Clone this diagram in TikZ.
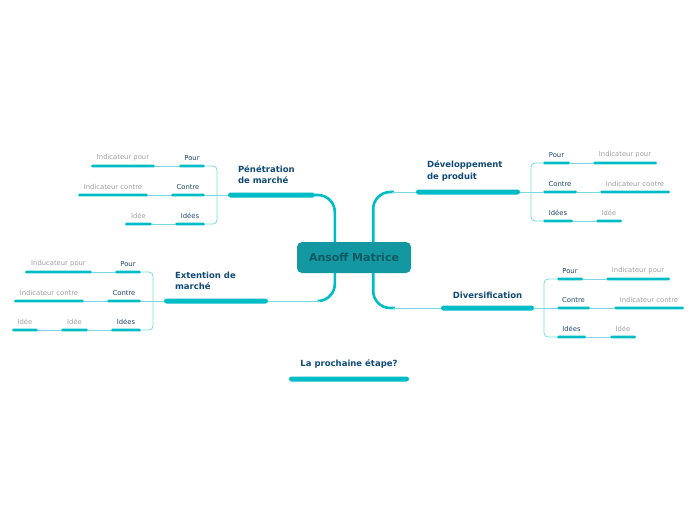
\documentclass[tikz,border=0pt]{standalone}
\usepackage{fontspec}
\setmainfont{DejaVu Sans}
\usetikzlibrary{positioning, calc}
\definecolor{barcyan}{RGB}{0,188,198}
\definecolor{twigcyan}{RGB}{120,218,224}
\definecolor{ctrfill}{RGB}{19,151,160}
\definecolor{ctrtext}{RGB}{14,90,100}
\definecolor{topicblue}{RGB}{16,74,118}
\definecolor{kidblue}{RGB}{28,72,108}
\definecolor{leafgrey}{RGB}{158,158,158}

\begin{document}
\begin{tikzpicture}[
    x=1pt, y=-1pt,
    central/.style={rectangle, rounded corners=5pt, fill=ctrfill, text=ctrtext, minimum width=114pt, minimum height=31pt, font=\fontsize{11}{13}\selectfont\bfseries},
    mainbar/.style={rectangle, rounded corners=2.5pt, fill=barcyan, minimum height=5pt, inner sep=0pt},
    subbar/.style={rectangle, rounded corners=1.3pt, fill=barcyan, minimum height=2.6pt, inner sep=0pt},
    topiclbl/.style={font=\fontsize{8.5}{11.5}\selectfont\bfseries, text=topicblue, align=left, inner sep=0pt},
    kidlbl/.style={font=\fontsize{6.8}{8}\selectfont, text=kidblue, inner sep=0pt, label distance=3.5pt},
    leaflbl/.style={font=\fontsize{6.8}{8}\selectfont, text=leafgrey, inner sep=0pt, label distance=3.5pt},
    trunk/.style={draw=barcyan, line width=2.6pt},
    twig/.style={draw=twigcyan, line width=0.8pt},
]
    \useasboundingbox (0,0) rectangle (696,520);

    % centre
    \node[central] (ctr) at (354,257.5) {Ansoff Matrice};

    % main topics
    \node[mainbar, minimum width=87pt] (pen) at (271.5,195) {};
    \node[topiclbl, anchor=south west] (penlbl) at ($(pen.north west)+(10,-8)$) {Pénétration\\de marché};
    \node[mainbar, minimum width=104pt] (dev) at (468,192) {};
    \node[topiclbl, anchor=south west] (devlbl) at ($(dev.north west)+(11,-8)$) {Développement\\de produit};
    \node[mainbar, minimum width=104pt] (ext) at (216,301) {};
    \node[topiclbl, anchor=south west] (extlbl) at ($(ext.north west)+(11,-8)$) {Extention de\\marché};
    \node[mainbar, minimum width=93pt] (div) at (487.5,308) {};
    \node[topiclbl, anchor=south] (divlbl) at ($(div.north)+(0,-6)$) {Diversification};
    \node[mainbar, minimum width=120pt] (next) at (349,379) {};
    \node[topiclbl, anchor=south] (nextlbl) at ($(next.north)+(0,-8)$) {La prochaine étape?};

    % trunks from the centre
    \coordinate (tl) at ($(ctr.north west)+(38,0)$);
    \coordinate (bl) at ($(ctr.south west)+(38,0)$);
    \coordinate (tr) at ($(ctr.north east)+(-38,0)$);
    \coordinate (br) at ($(ctr.south east)+(-38,0)$);
    \draw[trunk, rounded corners=17pt] (tl) |- (pen.east);
    \draw[trunk, rounded corners=17pt] (bl) |- ($(ext.east)+(50,0)$);
    \draw[twig] ($(ext.east)+(52,0)$) -- (ext.east);
    \draw[trunk, rounded corners=17pt] (tr) |- ($(dev.west)+(-22,0)$);
    \draw[twig] ($(dev.west)+(-24,0)$) -- (dev.west);
    \draw[trunk, rounded corners=17pt] (br) |- ($(div.west)+(-46,0)$);
    \draw[twig] ($(div.west)+(-48,0)$) -- (div.west);

    % Pénétration de marché
    \node[subbar, minimum width=26pt, label={[kidlbl]above:Pour}] (penpour) at (192,166) {};
    \node[subbar, minimum width=34pt, label={[kidlbl]above:Contre}] (pencontre) at (188,195) {};
    \node[subbar, minimum width=30pt, label={[kidlbl]above:Idées}] (penidees) at (190,224) {};
    \node[subbar, minimum width=64pt, label={[leaflbl]above:Indicateur pour}] (penindpour) at (123,166) {};
    \node[subbar, minimum width=70pt, label={[leaflbl]above:Indicateur contre}] (penindcontre) at (113,195) {};
    \node[subbar, minimum width=27pt, label={[leaflbl]above:Idée}] (penidee) at (138.5,224) {};
    \coordinate (penfork) at (217,195);
    \draw[twig, rounded corners=4pt] (penpour.east) -| (penfork) |- (penidees.east);
    \draw[twig] (pen.west) -- (pencontre.east);
    \draw[twig] (penpour.west) -- (penindpour.east);
    \draw[twig] (pencontre.west) -- (penindcontre.east);
    \draw[twig] (penidees.west) -- (penidee.east);

    % Développement de produit
    \node[subbar, minimum width=27pt, label={[kidlbl]above:Pour}] (devpour) at (556.5,163) {};
    \node[subbar, minimum width=34pt, label={[kidlbl]above:Contre}] (devcontre) at (560,192) {};
    \node[subbar, minimum width=30pt, label={[kidlbl]above:Idées}] (devidees) at (558,221) {};
    \node[subbar, minimum width=64pt, label={[leaflbl]above:Indicateur pour}] (devindpour) at (625,163) {};
    \node[subbar, minimum width=70pt, label={[leaflbl]above:Indicateur contre}] (devindcontre) at (635,192) {};
    \node[subbar, minimum width=26pt, label={[leaflbl]above:Idée}] (devidee) at (609,221) {};
    \coordinate (devfork) at (531,192);
    \draw[twig, rounded corners=4pt] (devpour.west) -| (devfork) |- (devidees.west);
    \draw[twig] (dev.east) -- (devcontre.west);
    \draw[twig] (devpour.east) -- (devindpour.west);
    \draw[twig] (devcontre.east) -- (devindcontre.west);
    \draw[twig] (devidees.east) -- (devidee.west);

    % Extention de marché
    \node[subbar, minimum width=26pt, label={[kidlbl]above:Pour}] (extpour) at (128,272) {};
    \node[subbar, minimum width=34pt, label={[kidlbl]above:Contre}] (extcontre) at (124,301) {};
    \node[subbar, minimum width=30pt, label={[kidlbl]above:Idées}] (extidees) at (126,330) {};
    \node[subbar, minimum width=67pt, label={[leaflbl]above:Inducateur pour}] (extindpour) at (58.5,272) {};
    \node[subbar, minimum width=70pt, label={[leaflbl]above:Indicateur contre}] (extindcontre) at (49,301) {};
    \node[subbar, minimum width=27pt, label={[leaflbl]above:Idée}] (extidee) at (74.5,330) {};
    \node[subbar, minimum width=26pt, label={[leaflbl]above:Idée}] (extideebis) at (25,330) {};
    \coordinate (extfork) at (153,301);
    \draw[twig, rounded corners=4pt] (extpour.east) -| (extfork) |- (extidees.east);
    \draw[twig] (ext.west) -- (extcontre.east);
    \draw[twig] (extpour.west) -- (extindpour.east);
    \draw[twig] (extcontre.west) -- (extindcontre.east);
    \draw[twig] (extidees.west) -- (extidee.east);
    \draw[twig] (extidee.west) -- (extideebis.east);

    % Diversification
    \node[subbar, minimum width=26pt, label={[kidlbl]above:Pour}] (divpour) at (570,279) {};
    \node[subbar, minimum width=33pt, label={[kidlbl]above:Contre}] (divcontre) at (573.5,308) {};
    \node[subbar, minimum width=29pt, label={[kidlbl]above:Idées}] (dividees) at (571.5,337) {};
    \node[subbar, minimum width=64pt, label={[leaflbl]above:Indicateur pour}] (divindpour) at (638,279) {};
    \node[subbar, minimum width=70pt, label={[leaflbl]above:Indicateur contre}] (divindcontre) at (649,308) {};
    \node[subbar, minimum width=26pt, label={[leaflbl]above:Idée}] (dividee) at (623,337) {};
    \coordinate (divfork) at (544,308);
    \draw[twig, rounded corners=4pt] (divpour.west) -| (divfork) |- (dividees.west);
    \draw[twig] (div.east) -- (divcontre.west);
    \draw[twig] (divpour.east) -- (divindpour.west);
    \draw[twig] (divcontre.east) -- (divindcontre.west);
    \draw[twig] (dividees.east) -- (dividee.west);
\end{tikzpicture}
\end{document}
